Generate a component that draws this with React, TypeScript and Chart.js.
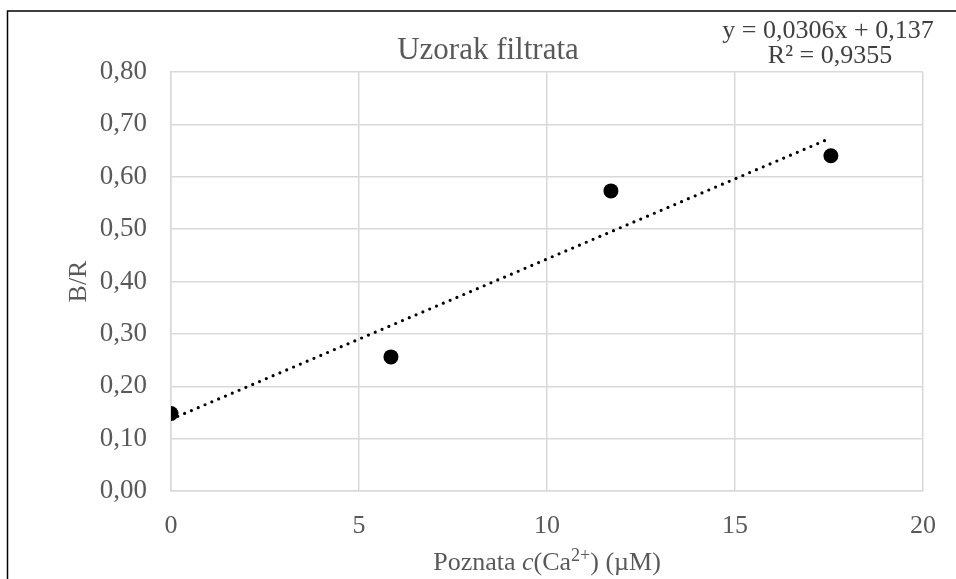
import React, { useEffect, useRef } from "react";
import { Chart, registerables } from "chart.js";

Chart.register(...registerables);

const concentrations = [0, 5.85, 11.7, 17.55];
const ratios = [0.148, 0.256, 0.573, 0.64];
const trendSlope = 0.0306;
const trendIntercept = 0.137;
const trendRange = [0, 17.55];
const chartTitle = "Uzorak filtrata";
const equationLines = ["y = 0,0306x + 0,137", "R² = 0,9355"];
const yTitle = "B/R";

const SERIF = "'Liberation Serif', 'Times New Roman', serif";

const overlay = {
  id: "overlay",
  afterDraw(chart: any) {
    const ctx = chart.ctx;
    const area = chart.chartArea;
    ctx.save();
    // outer border
    ctx.strokeStyle = "#000";
    ctx.lineWidth = 1.5;
    ctx.beginPath();
    ctx.moveTo(7.5, 600);
    ctx.lineTo(7.5, 11);
    ctx.lineTo(1000, 11);
    ctx.stroke();

    // title
    ctx.fillStyle = "#595959";
    ctx.font = `31px ${SERIF}`;
    ctx.textAlign = "center";
    ctx.textBaseline = "alphabetic";
    ctx.fillText(chartTitle, 488, 59);

    // equation
    ctx.fillStyle = "#404040";
    ctx.font = `26px ${SERIF}`;
    ctx.fillText(equationLines[0], 828, 38);
    ctx.fillText(equationLines[1], 830, 63);

    // y title
    ctx.fillStyle = "#595959";
    ctx.save();
    ctx.translate(86, (area.top + area.bottom) / 2);
    ctx.rotate(-Math.PI / 2);
    ctx.textAlign = "center";
    ctx.font = `26px ${SERIF}`;
    ctx.fillText(yTitle, 0, 0);
    ctx.restore();

    // x title rich text
    const parts = [
      { t: "Poznata ", f: `26px ${SERIF}`, dy: 0 },
      { t: "c", f: `italic 26px ${SERIF}`, dy: 0 },
      { t: "(Ca", f: `26px ${SERIF}`, dy: 0 },
      { t: "2+", f: `18px ${SERIF}`, dy: -9 },
      { t: ") (µM)", f: `26px ${SERIF}`, dy: 0 },
    ];
    let total = 0;
    for (const p of parts) {
      ctx.font = p.f;
      total += ctx.measureText(p.t).width;
    }
    let x = (area.left + area.right) / 2 - total / 2;
    ctx.textAlign = "left";
    for (const p of parts) {
      ctx.font = p.f;
      ctx.fillText(p.t, x, 570 + p.dy);
      x += ctx.measureText(p.t).width;
    }
    ctx.restore();
  },
};

export default function App() {
  const ref = useRef<HTMLCanvasElement>(null);
  useEffect(() => {
    document.body.style.margin = "0";
    const points = concentrations.map((c, i) => ({ x: c, y: ratios[i] }));
    const trend = trendRange.map((x) => ({ x, y: trendIntercept + trendSlope * x }));
    const chart = new Chart(ref.current!, {
      type: "scatter",
      data: {
        datasets: [
          {
            label: "Uzorak",
            data: points,
            backgroundColor: "#000",
            borderColor: "#000",
            pointRadius: 7.5,
            pointBorderWidth: 0,
            showLine: false,
          },
          {
            label: "Trend",
            data: trend,
            showLine: true,
            borderColor: "#000",
            borderWidth: 3.2,
            borderCapStyle: "round",
            borderDash: [0, 7.4],
            pointRadius: 0,
            fill: false,
          },
        ],
      },
      options: {
        animation: false,
        responsive: false,
        layout: { padding: { left: 0, right: 29, top: 72, bottom: 0 } },
        plugins: { legend: { display: false }, tooltip: { enabled: false }, title: { display: false } },
        scales: {
          x: {
            type: "linear",
            min: 0,
            max: 20,
            ticks: { stepSize: 5, color: "#595959", font: { family: SERIF, size: 26 }, padding: 20 },
            grid: { color: "#d9d9d9", lineWidth: 1.5, drawTicks: false, tickLength: 0 },
            border: { color: "#d9d9d9", width: 1.5 },
            afterFit: (s: any) => {
              s.height = 88;
            },
          },
          y: {
            min: 0,
            max: 0.8,
            ticks: {
              stepSize: 0.1,
              color: "#595959",
              font: { family: SERIF, size: 27 },
              padding: 24,
              callback: (v: any) => Number(v).toFixed(2).replace(".", ","),
            },
            grid: { color: "#d9d9d9", lineWidth: 1.5, drawTicks: false, tickLength: 0 },
            border: { color: "#d9d9d9", width: 1.5 },
            afterFit: (s: any) => {
              s.width = 171;
            },
          },
        },
      },
      plugins: [overlay],
    });
    return () => chart.destroy();
  }, []);
  return (
    <div style={{ position: "fixed", left: 0, top: 0, width: 956, height: 579, background: "#fff" }}>
      <canvas ref={ref} width={956} height={579} />
    </div>
  );
}
